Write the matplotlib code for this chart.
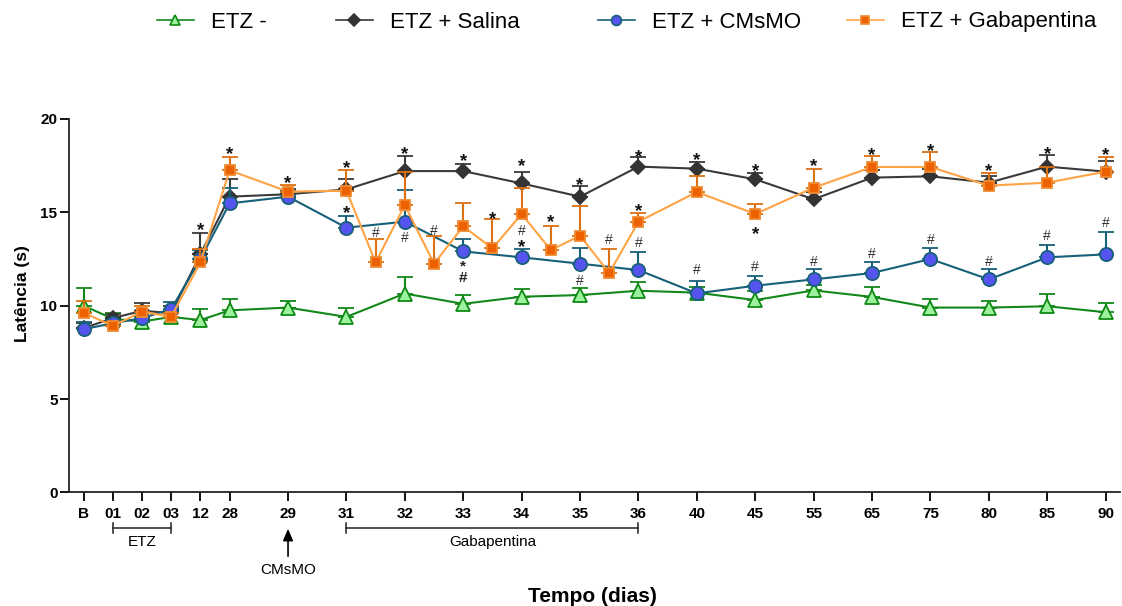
import matplotlib
matplotlib.use('Agg')
import matplotlib.pyplot as plt
from matplotlib.lines import Line2D
from matplotlib.transforms import blended_transform_factory
import numpy as np

plt.rcParams['font.family'] = ['Liberation Sans', 'DejaVu Sans']

# ---------------- data ----------------
days = ['B', '01', '02', '03', '12', '28', '29', '31', '32', '33', '34', '35', '36',
        '40', '45', '55', '65', '75', '80', '85', '90']

etz_mean = [10.0, 9.3, 9.15, 9.4, 9.23, 9.75, 9.9, 9.4, 10.65, 10.1, 10.48, 10.57, 10.8,
            10.7, 10.3, 10.82, 10.47, 9.9, 9.9, 9.97, 9.65]
etz_err = [0.96, 0.3, 0.3, 0.3, 0.59, 0.6, 0.36, 0.48, 0.87, 0.48, 0.41, 0.39, 0.46,
           0.3, 0.48, 0.3, 0.52, 0.46, 0.36, 0.66, 0.51]

sal_mean = [8.8, 9.33, 9.73, 9.6, 12.75, 15.84, 15.97, 16.23, 17.21, 17.21, 16.55, 15.84, 17.45,
            17.34, 16.77, 15.7, 16.86, 16.93, 16.59, 17.45, 17.18]
sal_err = [0.3, 0.23, 0.4, 0.4, 1.13, 0.93, 0.3, 0.55, 0.8, 0.36, 0.62, 0.59, 0.5,
           0.36, 0.34, 0.38, 0.39, 0.4, 0.36, 0.62, 0.59]

cms_mean = [8.74, 9.06, 9.33, 9.82, 12.5, 15.48, 15.84, 14.18, 14.5, 12.91, 12.59, 12.25, 11.91,
            10.66, 11.07, 11.41, 11.75, 12.5, 11.41, 12.59, 12.75]
cms_err = [0.41, 0.2, 0.3, 0.4, 0.5, 0.8, 0.3, 0.64, 1.7, 0.68, 0.45, 0.86, 0.95,
           0.66, 0.52, 0.55, 0.59, 0.57, 0.54, 0.66, 1.21]

gaba_days = ['B', '01', '02', '03', '12', '28', '29', '31', '31.5', '32', '32.5', '33', '33.5',
             '34', '34.5', '35', '35.5', '36', '40', '45', '55', '65', '75', '80', '85', '90']
gaba_mean = [9.63, 8.91, 9.68, 9.41, 12.32, 17.25, 16.11, 16.16, 12.32, 15.39, 12.25, 14.25, 13.07,
             14.91, 12.98, 13.75, 11.75, 14.5, 16.09, 14.91, 16.32, 17.43, 17.43, 16.43, 16.59, 17.18]
gaba_err = [0.64, 0.2, 0.3, 0.2, 0.71, 0.73, 0.38, 1.13, 1.23, 1.79, 1.48, 1.27, 1.57,
            1.38, 1.29, 1.59, 1.27, 0.48, 0.86, 0.54, 1.0, 0.59, 0.82, 0.7, 0.84, 0.8]

star_days = ['12', '28', '29', '31', '31', '32', '33', '33.5', '34', '34', '34.5', '35',
             '36', '36', '40', '45', '45', '55', '65', '75', '80', '85', '90']
star_y = [14.23, 18.30, 16.73, 17.55, 15.11, 18.30, 17.93, 14.79, 17.63, 13.30, 14.63, 16.64,
          18.16, 15.25, 17.98, 17.39, 14.0, 17.66, 18.22, 18.48, 17.36, 18.30, 18.22]

hash_days = ['31.5', '32', '32.5', '34', '35', '35.5', '36', '40', '45', '55', '65',
             '75', '80', '85', '90']
hash_y = [13.88, 13.61, 14.02, 14.0, 11.32, 13.52, 13.34, 11.91, 12.09, 12.34, 12.77,
          13.52, 12.34, 13.73, 14.45]

# '*' stacked over '#'
stack_days = ['33']
stack_y = [11.78]

series_names = ['ETZ -', 'ETZ + Salina', 'ETZ + CMsMO', 'ETZ + Gabapentina']
y_ticks = [0, 5, 10, 15, 20]

# ---------------- category positions ----------------
pos = {}
for i, d in enumerate(days):
    pos[d] = i if i <= 5 else 5 + 2 * (i - 5)


def xpos(label):
    if label in pos:
        return pos[label]
    lo = str(int(float(label)))
    nxt = days[days.index(lo) + 1]
    return (pos[lo] + pos[nxt]) / 2.0


# ---------------- figure ----------------
W, H = 1122, 606
fig = plt.figure(figsize=(W / 100, H / 100), dpi=100)
ax = fig.add_axes([69.3 / W, 1 - 492.4 / H, (1120 - 69.3) / W, (492.4 - 119) / H])
ax.set_xlim(-0.49, 35.49)
ax.set_ylim(0, 20)

styles = [
    dict(marker='^', color='#13881a', mfc='#9cf29c', mec='#0f8a14', ms=9.5, ecolor='#13881a', z=3),
    dict(marker='D', color='#3a3a3a', mfc='#333333', mec='#333333', ms=7.5, ecolor='#3a3a3a', z=4),
    dict(marker='o', color='#17607a', mfc='#5555ee', mec='#17607a', ms=9.5, ecolor='#17607a', z=5),
    dict(marker='s', color='#ffa345', mfc='#ee6100', mec='#f08a30', ms=7, ecolor='#dd7010', z=6),
]
all_x = [[xpos(d) for d in days]] * 3 + [[xpos(d) for d in gaba_days]]
all_y = [etz_mean, sal_mean, cms_mean, gaba_mean]
all_e = [etz_err, sal_err, cms_err, gaba_err]

for xs, ys, es, st in zip(all_x, all_y, all_e, styles):
    es = np.array(es)
    ax.errorbar(xs, ys, yerr=[np.zeros_like(es), es], fmt='-', marker=st['marker'],
                color=st['color'], mfc=st['mfc'], mec=st['mec'], ms=st['ms'], mew=1.3,
                lw=1.5, ecolor=st['ecolor'], elinewidth=1.5, capsize=6, capthick=1.8,
                zorder=st['z'])

for d, y in zip(star_days, star_y):
    ax.text(xpos(d), y - 0.2, '*', ha='center', va='center', fontsize=13.5,
            fontweight='bold', color='#111111', zorder=10)
for d, y in zip(hash_days, hash_y):
    ax.text(xpos(d), y, '#', ha='center', va='center', fontsize=10,
            color='#333333', zorder=10)
for d, y in zip(stack_days, stack_y):
    ax.text(xpos(d), y, '*\n#', ha='center', va='center', fontsize=11,
            fontweight='bold', color='#222222', linespacing=0.8, zorder=10)

# axes styling
for s in ['top', 'right']:
    ax.spines[s].set_visible(False)
for s in ['left', 'bottom']:
    ax.spines[s].set_linewidth(1.3)
    ax.spines[s].set_color('#222222')
ax.set_xticks([pos[d] for d in days])
ax.set_xticklabels(days)
ax.set_yticks(y_ticks)
ax.set_yticklabels([str(v) for v in y_ticks])
ax.tick_params(axis='x', length=6.5, width=1.3, pad=4, labelsize=11)
ax.tick_params(axis='y', length=6.5, width=1.3, pad=2, labelsize=11)
for lab in ax.get_xticklabels() + ax.get_yticklabels():
    lab.set_fontweight('bold')

fig.text(23 / W, 1 - 294 / H, 'Latência (s)', rotation=90, ha='center', va='center',
         fontsize=12.5, fontweight='bold')
fig.text(592 / W, 1 - 597 / H, 'Tempo (dias)', ha='center', va='center',
         fontsize=15, fontweight='bold')

# brackets / arrow below axis
bt = blended_transform_factory(ax.transData, fig.transFigure)
yb = 1 - 528.3 / H
tk = 5 / H
for a, b, label in [('01', '03', 'ETZ'), ('31', '36', 'Gabapentina')]:
    xa, xb = pos[a], pos[b]
    ax.plot([xa, xb], [yb, yb], transform=bt, color='#222222', lw=1.1, clip_on=False)
    for xx in (xa, xb):
        ax.plot([xx, xx], [yb - tk, yb + tk], transform=bt, color='#222222', lw=1.1,
                clip_on=False)
    ax.text((xa + xb) / 2, 1 - 542 / H, label, transform=bt, ha='center', va='center',
            fontsize=11)

ax.annotate('', xy=(pos['29'], 1 - 526 / H), xycoords=bt,
            xytext=(pos['29'], 1 - 559 / H), textcoords=bt,
            arrowprops=dict(arrowstyle='-|>,head_length=0.7,head_width=0.3',
                            color='black', lw=1.2))
ax.text(pos['29'], 1 - 569.5 / H, 'CMsMO', transform=bt, ha='center', va='center',
        fontsize=11)

# legend (one entry each, placed as in the reference)
leg_x = [157, 336, 598, 847]
for name, st, lx in zip(series_names, styles, leg_x):
    h = Line2D([0], [0], color=st['color'], lw=1.2, marker=st['marker'], mfc=st['mfc'],
               mec=st['mec'], ms=st['ms'] * 0.75, mew=1.2)
    fig.legend([h], [name], loc='center left', bbox_to_anchor=(lx / W, 1 - 22 / H),
               frameon=False, fontsize=16, handlelength=1.65, handletextpad=0.8,
               borderpad=0, borderaxespad=0)

fig.savefig('out.png', dpi=100)
